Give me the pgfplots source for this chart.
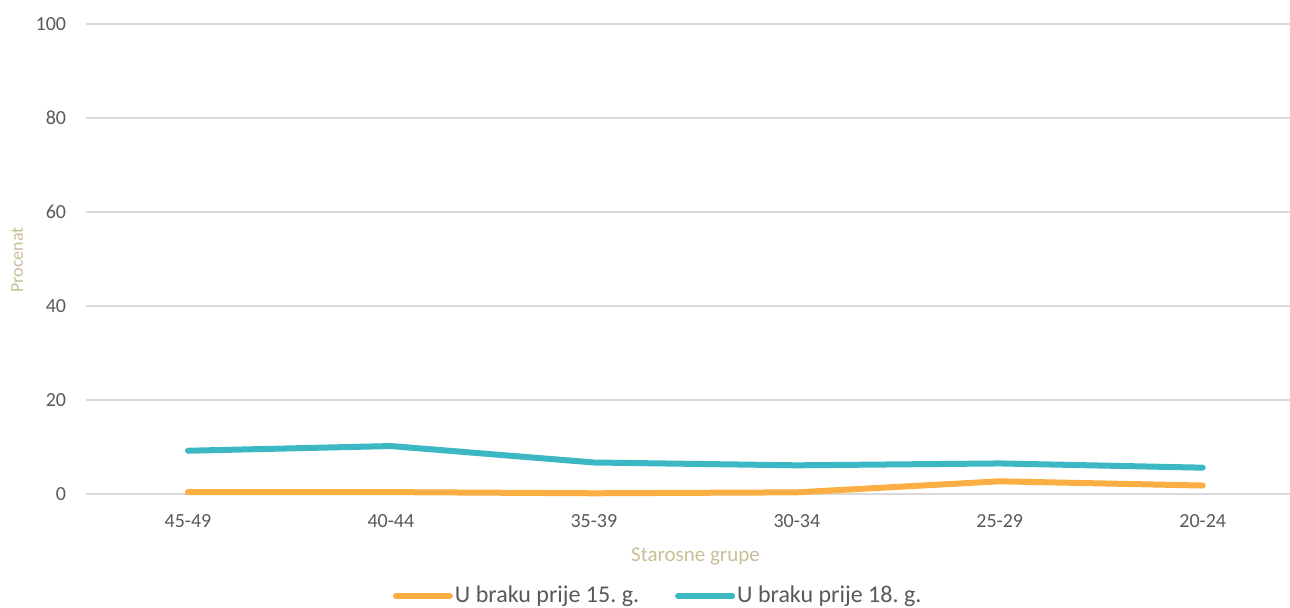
\documentclass[border=0pt]{standalone}
\usepackage{pgfplots}
\pgfplotsset{compat=1.18}
\usepackage{fontspec}
\setmainfont{Carlito}
\frenchspacing
\definecolor{teal1}{RGB}{59,184,196}
\definecolor{orange1}{RGB}{251,174,66}
\definecolor{titlecol}{RGB}{200,190,150}
\definecolor{tickcol}{RGB}{89,89,89}
\definecolor{gridcol}{RGB}{217,217,217}
\begin{document}
\begin{tikzpicture}
\path[use as bounding box] (0,0) rectangle (645pt,304pt);
\begin{axis}[
  at={(43.25pt,57pt)}, anchor=south west,
  scale only axis,
  width=601.75pt, height=235pt,
  xmin=-0.5, xmax=5.43,
  ymin=0, ymax=100,
  ytick={0,20,40,60,80,100},
  xtick={0,1,2,3,4,5},
  xticklabels={45-49,40-44,35-39,30-34,25-29,20-24},
  major tick length=0pt,
  axis line style={draw=none},
  ymajorgrids,
  grid style={gridcol, line width=0.6pt},
  clip=false,
  /pgf/number format/assume math mode=true,
  tick label style={font=\fontsize{10}{12}\selectfont, text=tickcol},
  yticklabel style={inner sep=0pt, xshift=-10pt},
  xticklabel style={inner sep=0pt, yshift=-10pt},
  xlabel={Starosne grupe},
  ylabel={Procenat},
  xlabel style={at={(axis description cs:0.506,-0.132)}, anchor=center, font=\fontsize{10.5}{12}\selectfont, text=titlecol},
  ylabel style={at={(axis description cs:-0.0577,0.498)}, anchor=center, rotate=0, font=\fontsize{9}{11}\selectfont, text=titlecol},
  legend style={at={(0.475,-0.217)}, anchor=center, draw=none, fill=none,
    font=\fontsize{12}{14}\selectfont, text=tickcol,
    nodes={inner sep=1pt}},
  legend columns=2,
  legend cell align=left,
  /tikz/every even column/.append style={column sep=17pt},
  legend image code/.code={\draw[#1, line cap=round] (0pt,0pt) -- (27pt,0pt);},
]
\addplot[orange1, line width=3pt, line cap=round, line join=round] coordinates {
  (0,0.4) (1,0.4) (2,0.15) (3,0.35) (4,2.7) (5,1.8)};
\addlegendentry{U braku prije 15. g.}
\addplot[teal1, line width=3pt, line cap=round, line join=round] coordinates {
  (0,9.2) (1,10.2) (2,6.7) (3,6.1) (4,6.5) (5,5.6)};
\addlegendentry{U braku prije 18. g.}
\end{axis}
\end{tikzpicture}
\end{document}
